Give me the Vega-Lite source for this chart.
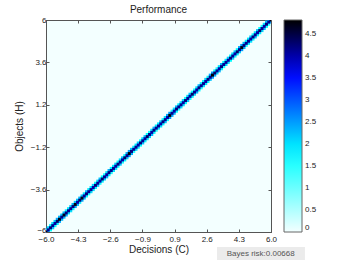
{
  "$schema": "https://vega.github.io/schema/vega-lite/v6.json",
  "width": 225,
  "height": 212,
  "autosize": {"type": "none"},
  "padding": {"left": 46, "top": 20, "right": 77, "bottom": 30},
  "background": "white",
  "config": {
    "font": "Liberation Sans",
    "view": {"fill": "#f3ffff", "stroke": "#555", "strokeWidth": 1}
  },
  "title": {"text": "Performance", "fontSize": 10, "fontWeight": "normal", "color": "#222", "offset": 1, "anchor": "middle"},
  "resolve": {"axis": {"x": "independent", "y": "independent"}},
  "datasets": {
    "cells": [
      {"c":-6,"r":-5.88,"v":1.9},{"c":-5.88,"r":-5.76,"v":2.1},{"c":-5.76,"r":-5.64,"v":1.7},{"c":-5.64,"r":-5.52,"v":2.0},{"c":-5.52,"r":-5.4,"v":2.2},
      {"c":-5.4,"r":-5.28,"v":2.4},{"c":-5.28,"r":-5.16,"v":2.3},{"c":-5.16,"r":-5.04,"v":2.2},{"c":-5.04,"r":-4.92,"v":2.3},{"c":-4.92,"r":-4.8,"v":1.9},
      {"c":-4.8,"r":-4.68,"v":1.9},{"c":-4.68,"r":-4.56,"v":2.1},{"c":-4.56,"r":-4.44,"v":2.3},{"c":-4.44,"r":-4.32,"v":2.2},{"c":-4.32,"r":-4.2,"v":2.2},
      {"c":-4.2,"r":-4.08,"v":2.3},{"c":-4.08,"r":-3.96,"v":2.2},{"c":-3.96,"r":-3.84,"v":2.0},{"c":-3.84,"r":-3.72,"v":2.3},{"c":-3.72,"r":-3.6,"v":1.9},
      {"c":-3.6,"r":-3.48,"v":1.9},{"c":-3.48,"r":-3.36,"v":2.1},{"c":-3.36,"r":-3.24,"v":1.7},{"c":-3.24,"r":-3.12,"v":2.0},{"c":-3.12,"r":-3,"v":2.2},
      {"c":-3,"r":-2.88,"v":1.8},{"c":-2.88,"r":-2.76,"v":1.6},{"c":-2.76,"r":-2.64,"v":2.0},{"c":-2.64,"r":-2.52,"v":2.3},{"c":-2.52,"r":-2.4,"v":1.9},
      {"c":-2.4,"r":-2.28,"v":1.9},{"c":-2.28,"r":-2.16,"v":2.1},{"c":-2.16,"r":-2.04,"v":1.7},{"c":-2.04,"r":-1.92,"v":2.0},{"c":-1.92,"r":-1.8,"v":2.2},
      {"c":-1.8,"r":-1.68,"v":1.8},{"c":-1.68,"r":-1.56,"v":2.4},{"c":-1.56,"r":-1.44,"v":2.5},{"c":-1.44,"r":-1.32,"v":2.3},{"c":-1.32,"r":-1.2,"v":1.9},
      {"c":-1.2,"r":-1.08,"v":1.9},{"c":-1.08,"r":-0.96,"v":2.1},{"c":-0.96,"r":-0.84,"v":1.7},{"c":-0.84,"r":-0.72,"v":2.0},{"c":-0.72,"r":-0.6,"v":2.2},
      {"c":-0.6,"r":-0.48,"v":1.8},{"c":-0.48,"r":-0.36,"v":1.6},{"c":-0.36,"r":-0.24,"v":2.0},{"c":-0.24,"r":-0.12,"v":2.3},{"c":-0.12,"r":0,"v":1.9},
      {"c":0,"r":0.12,"v":1.9},{"c":0.12,"r":0.24,"v":2.1},{"c":0.24,"r":0.36,"v":1.7},{"c":0.36,"r":0.48,"v":2.0},{"c":0.48,"r":0.6,"v":2.4},
      {"c":0.6,"r":0.72,"v":2.5},{"c":0.72,"r":0.84,"v":1.6},{"c":0.84,"r":0.96,"v":2.0},{"c":0.96,"r":1.08,"v":2.3},{"c":1.08,"r":1.2,"v":1.9},
      {"c":1.2,"r":1.32,"v":1.9},{"c":1.32,"r":1.44,"v":2.1},{"c":1.44,"r":1.56,"v":1.7},{"c":1.56,"r":1.68,"v":2.0},{"c":1.68,"r":1.8,"v":2.2},
      {"c":1.8,"r":1.92,"v":1.8},{"c":1.92,"r":2.04,"v":1.6},{"c":2.04,"r":2.16,"v":2.0},{"c":2.16,"r":2.28,"v":2.3},{"c":2.28,"r":2.4,"v":1.9},
      {"c":2.4,"r":2.52,"v":1.9},{"c":2.52,"r":2.64,"v":2.1},{"c":2.64,"r":2.76,"v":1.7},{"c":2.76,"r":2.88,"v":2.4},{"c":2.88,"r":3,"v":2.5},
      {"c":3,"r":3.12,"v":1.8},{"c":3.12,"r":3.24,"v":1.6},{"c":3.24,"r":3.36,"v":2.0},{"c":3.36,"r":3.48,"v":2.3},{"c":3.48,"r":3.6,"v":1.9},
      {"c":3.6,"r":3.72,"v":1.9},{"c":3.72,"r":3.84,"v":2.1},{"c":3.84,"r":3.96,"v":1.7},{"c":3.96,"r":4.08,"v":2.0},{"c":4.08,"r":4.2,"v":2.2},
      {"c":4.2,"r":4.32,"v":1.8},{"c":4.32,"r":4.44,"v":2.4},{"c":4.44,"r":4.56,"v":2.5},{"c":4.56,"r":4.68,"v":2.3},{"c":4.68,"r":4.8,"v":1.9},
      {"c":4.8,"r":4.92,"v":1.9},{"c":4.92,"r":5.04,"v":2.1},{"c":5.04,"r":5.16,"v":1.7},{"c":5.16,"r":5.28,"v":2.0},{"c":5.28,"r":5.4,"v":2.2},
      {"c":5.4,"r":5.52,"v":1.8},{"c":5.52,"r":5.64,"v":1.6},{"c":5.64,"r":5.76,"v":2.0},{"c":5.76,"r":5.88,"v":2.3},{"c":5.88,"r":6,"v":2.4},

      {"c":-5.88,"r":-6,"v":2.4},{"c":-5.76,"r":-5.88,"v":1.8},{"c":-5.64,"r":-5.76,"v":2.2},{"c":-5.52,"r":-5.64,"v":1.7},{"c":-5.4,"r":-5.52,"v":1.9},
      {"c":-5.28,"r":-5.4,"v":2.4},{"c":-5.16,"r":-5.28,"v":2.3},{"c":-5.04,"r":-5.16,"v":2.3},{"c":-4.92,"r":-5.04,"v":2.4},{"c":-4.8,"r":-4.92,"v":2.0},
      {"c":-4.68,"r":-4.8,"v":2.0},{"c":-4.56,"r":-4.68,"v":1.8},{"c":-4.44,"r":-4.56,"v":2.4},{"c":-4.32,"r":-4.44,"v":2.3},{"c":-4.2,"r":-4.32,"v":1.9},
      {"c":-4.08,"r":-4.2,"v":2.4},{"c":-3.96,"r":-4.08,"v":2.3},{"c":-3.84,"r":-3.96,"v":1.8},{"c":-3.72,"r":-3.84,"v":1.6},{"c":-3.6,"r":-3.72,"v":2.0},
      {"c":-3.48,"r":-3.6,"v":2.0},{"c":-3.36,"r":-3.48,"v":1.8},{"c":-3.24,"r":-3.36,"v":2.2},{"c":-3.12,"r":-3.24,"v":1.7},{"c":-3,"r":-3.12,"v":1.9},
      {"c":-2.88,"r":-3,"v":2.1},{"c":-2.76,"r":-2.88,"v":2.3},{"c":-2.64,"r":-2.76,"v":1.8},{"c":-2.52,"r":-2.64,"v":1.6},{"c":-2.4,"r":-2.52,"v":2.0},
      {"c":-2.28,"r":-2.4,"v":2.0},{"c":-2.16,"r":-2.28,"v":1.8},{"c":-2.04,"r":-2.16,"v":2.2},{"c":-1.92,"r":-2.04,"v":1.7},{"c":-1.8,"r":-1.92,"v":1.9},
      {"c":-1.68,"r":-1.8,"v":2.1},{"c":-1.56,"r":-1.68,"v":2.5},{"c":-1.44,"r":-1.56,"v":2.4},{"c":-1.32,"r":-1.44,"v":1.6},{"c":-1.2,"r":-1.32,"v":2.0},
      {"c":-1.08,"r":-1.2,"v":2.0},{"c":-0.96,"r":-1.08,"v":1.8},{"c":-0.84,"r":-0.96,"v":2.2},{"c":-0.72,"r":-0.84,"v":1.7},{"c":-0.6,"r":-0.72,"v":1.9},
      {"c":-0.48,"r":-0.6,"v":2.1},{"c":-0.36,"r":-0.48,"v":2.3},{"c":-0.24,"r":-0.36,"v":1.8},{"c":-0.12,"r":-0.24,"v":1.6},{"c":0,"r":-0.12,"v":2.0},
      {"c":0.12,"r":0,"v":2.0},{"c":0.24,"r":0.12,"v":1.8},{"c":0.36,"r":0.24,"v":2.2},{"c":0.48,"r":0.36,"v":1.7},{"c":0.6,"r":0.48,"v":2.5},
      {"c":0.72,"r":0.6,"v":2.4},{"c":0.84,"r":0.72,"v":2.3},{"c":0.96,"r":0.84,"v":1.8},{"c":1.08,"r":0.96,"v":1.6},{"c":1.2,"r":1.08,"v":2.0},
      {"c":1.32,"r":1.2,"v":2.0},{"c":1.44,"r":1.32,"v":1.8},{"c":1.56,"r":1.44,"v":2.2},{"c":1.68,"r":1.56,"v":1.7},{"c":1.8,"r":1.68,"v":1.9},
      {"c":1.92,"r":1.8,"v":2.1},{"c":2.04,"r":1.92,"v":2.3},{"c":2.16,"r":2.04,"v":1.8},{"c":2.28,"r":2.16,"v":1.6},{"c":2.4,"r":2.28,"v":2.0},
      {"c":2.52,"r":2.4,"v":2.0},{"c":2.64,"r":2.52,"v":1.8},{"c":2.76,"r":2.64,"v":2.2},{"c":2.88,"r":2.76,"v":2.5},{"c":3,"r":2.88,"v":2.4},
      {"c":3.12,"r":3,"v":2.1},{"c":3.24,"r":3.12,"v":2.3},{"c":3.36,"r":3.24,"v":1.8},{"c":3.48,"r":3.36,"v":1.6},{"c":3.6,"r":3.48,"v":2.0},
      {"c":3.72,"r":3.6,"v":2.0},{"c":3.84,"r":3.72,"v":1.8},{"c":3.96,"r":3.84,"v":2.2},{"c":4.08,"r":3.96,"v":1.7},{"c":4.2,"r":4.08,"v":1.9},
      {"c":4.32,"r":4.2,"v":2.1},{"c":4.44,"r":4.32,"v":2.5},{"c":4.56,"r":4.44,"v":2.4},{"c":4.68,"r":4.56,"v":1.6},{"c":4.8,"r":4.68,"v":2.0},
      {"c":4.92,"r":4.8,"v":2.0},{"c":5.04,"r":4.92,"v":1.8},{"c":5.16,"r":5.04,"v":2.2},{"c":5.28,"r":5.16,"v":1.7},{"c":5.4,"r":5.28,"v":1.9},
      {"c":5.52,"r":5.4,"v":2.1},{"c":5.64,"r":5.52,"v":2.3},{"c":5.76,"r":5.64,"v":1.8},{"c":5.88,"r":5.76,"v":1.6},{"c":6,"r":5.88,"v":2.4},

      {"c":-6,"r":-6,"v":4.75},{"c":-5.88,"r":-5.88,"v":4.1},{"c":-5.76,"r":-5.76,"v":4.2},{"c":-5.64,"r":-5.64,"v":4.1},{"c":-5.52,"r":-5.52,"v":4.0},
      {"c":-5.4,"r":-5.4,"v":4.3},{"c":-5.28,"r":-5.28,"v":4.75},{"c":-5.16,"r":-5.16,"v":4.1},{"c":-5.04,"r":-5.04,"v":4.7},{"c":-4.92,"r":-4.92,"v":4.2},
      {"c":-4.8,"r":-4.8,"v":4.1},{"c":-4.68,"r":-4.68,"v":4.1},{"c":-4.56,"r":-4.56,"v":4.2},{"c":-4.44,"r":-4.44,"v":4.75},{"c":-4.32,"r":-4.32,"v":4.0},
      {"c":-4.2,"r":-4.2,"v":4.3},{"c":-4.08,"r":-4.08,"v":4.7},{"c":-3.96,"r":-3.96,"v":4.1},{"c":-3.84,"r":-3.84,"v":4.2},{"c":-3.72,"r":-3.72,"v":4.1},
      {"c":-3.6,"r":-3.6,"v":4.1},{"c":-3.48,"r":-3.48,"v":4.0},{"c":-3.36,"r":-3.36,"v":4.2},{"c":-3.24,"r":-3.24,"v":4.1},{"c":-3.12,"r":-3.12,"v":4.0},
      {"c":-3,"r":-3,"v":4.3},{"c":-2.88,"r":-2.88,"v":4.1},{"c":-2.76,"r":-2.76,"v":4.0},{"c":-2.64,"r":-2.64,"v":4.2},{"c":-2.52,"r":-2.52,"v":4.1},
      {"c":-2.4,"r":-2.4,"v":4.1},{"c":-2.28,"r":-2.28,"v":4.0},{"c":-2.16,"r":-2.16,"v":4.2},{"c":-2.04,"r":-2.04,"v":4.1},{"c":-1.92,"r":-1.92,"v":4.0},
      {"c":-1.8,"r":-1.8,"v":4.3},{"c":-1.68,"r":-1.68,"v":4.1},{"c":-1.56,"r":-1.56,"v":4.8},{"c":-1.44,"r":-1.44,"v":4.2},{"c":-1.32,"r":-1.32,"v":4.1},
      {"c":-1.2,"r":-1.2,"v":4.1},{"c":-1.08,"r":-1.08,"v":4.0},{"c":-0.96,"r":-0.96,"v":4.2},{"c":-0.84,"r":-0.84,"v":4.1},{"c":-0.72,"r":-0.72,"v":4.0},
      {"c":-0.6,"r":-0.6,"v":4.3},{"c":-0.48,"r":-0.48,"v":4.1},{"c":-0.36,"r":-0.36,"v":4.0},{"c":-0.24,"r":-0.24,"v":4.2},{"c":-0.12,"r":-0.12,"v":4.1},
      {"c":0,"r":0,"v":4.1},{"c":0.12,"r":0.12,"v":4.0},{"c":0.24,"r":0.24,"v":4.2},{"c":0.36,"r":0.36,"v":4.1},{"c":0.48,"r":0.48,"v":4.0},
      {"c":0.6,"r":0.6,"v":4.8},{"c":0.72,"r":0.72,"v":4.1},{"c":0.84,"r":0.84,"v":4.0},{"c":0.96,"r":0.96,"v":4.2},{"c":1.08,"r":1.08,"v":4.1},
      {"c":1.2,"r":1.2,"v":4.1},{"c":1.32,"r":1.32,"v":4.0},{"c":1.44,"r":1.44,"v":4.2},{"c":1.56,"r":1.56,"v":4.1},{"c":1.68,"r":1.68,"v":4.0},
      {"c":1.8,"r":1.8,"v":4.3},{"c":1.92,"r":1.92,"v":4.1},{"c":2.04,"r":2.04,"v":4.0},{"c":2.16,"r":2.16,"v":4.2},{"c":2.28,"r":2.28,"v":4.1},
      {"c":2.4,"r":2.4,"v":4.1},{"c":2.52,"r":2.52,"v":4.0},{"c":2.64,"r":2.64,"v":4.2},{"c":2.76,"r":2.76,"v":4.1},{"c":2.88,"r":2.88,"v":4.8},
      {"c":3,"r":3,"v":4.3},{"c":3.12,"r":3.12,"v":4.1},{"c":3.24,"r":3.24,"v":4.0},{"c":3.36,"r":3.36,"v":4.2},{"c":3.48,"r":3.48,"v":4.1},
      {"c":3.6,"r":3.6,"v":4.1},{"c":3.72,"r":3.72,"v":4.0},{"c":3.84,"r":3.84,"v":4.2},{"c":3.96,"r":3.96,"v":4.1},{"c":4.08,"r":4.08,"v":4.0},
      {"c":4.2,"r":4.2,"v":4.3},{"c":4.32,"r":4.32,"v":4.1},{"c":4.44,"r":4.44,"v":4.75},{"c":4.56,"r":4.56,"v":4.2},{"c":4.68,"r":4.68,"v":4.1},
      {"c":4.8,"r":4.8,"v":4.1},{"c":4.92,"r":4.92,"v":4.0},{"c":5.04,"r":5.04,"v":4.2},{"c":5.16,"r":5.16,"v":4.1},{"c":5.28,"r":5.28,"v":4.0},
      {"c":5.4,"r":5.4,"v":4.3},{"c":5.52,"r":5.52,"v":4.1},{"c":5.64,"r":5.64,"v":4.0},{"c":5.76,"r":5.76,"v":4.2},{"c":5.88,"r":5.88,"v":4.1},
      {"c":6,"r":6,"v":4.7}
    ],
    "note": [{"label": "Bayes risk:0.00668"}]
  },
  "layer": [
    {
      "data": {"name": "cells"},
      "mark": {"type": "square", "size": 9, "opacity": 1, "filled": true, "clip": true},
      "encoding": {
        "x": {
          "field": "c", "type": "quantitative",
          "scale": {"domain": [-6, 6], "nice": false, "zero": false},
          "axis": {
            "values": [-6, -4.2857, -2.5714, -0.8571, 0.8571, 2.5714, 4.2857, 6],
            "format": ".1f", "title": "Decisions (C)", "grid": false,
            "tickSize": -3, "tickColor": "#555", "domainColor": "#555",
            "labelFontSize": 8, "labelColor": "#222", "labelPadding": 6,
            "labelOverlap": false, "labelFlush": false,
            "titleFontSize": 10, "titleFontWeight": "normal", "titleColor": "#222", "titlePadding": 1
          }
        },
        "y": {
          "field": "r", "type": "quantitative",
          "scale": {"domain": [-6, 6], "nice": false, "zero": false},
          "axis": {
            "values": [-6, -3.6, -1.2, 1.2, 3.6, 6],
            "format": ".1~f", "title": "Objects (H)", "grid": false,
            "tickSize": -3, "tickColor": "#555", "domainColor": "#555",
            "labelFontSize": 8, "labelColor": "#222", "labelPadding": 3,
            "labelOffset": {"condition": {"test": "datum.value <= -6", "value": -2}, "value": 0},
            "labelOverlap": false, "labelFlush": false,
            "titleFontSize": 10, "titleFontWeight": "normal", "titleColor": "#222", "titlePadding": 6
          }
        },
        "color": {
          "field": "v", "type": "quantitative",
          "scale": {"domain": [0, 1.8, 3.6, 4.82], "range": ["#f3ffff", "#00ffff", "#0000ff", "#000000"], "interpolate": "rgb"},
          "legend": {
            "orient": "none", "legendX": 238, "legendY": 0, "title": null, "padding": 0,
            "direction": "vertical", "gradientLength": 212, "gradientThickness": 18,
            "gradientStrokeColor": "#666", "gradientStrokeWidth": 1,
            "values": [0, 0.5, 1, 1.5, 2, 2.5, 3, 3.5, 4, 4.5], "format": ".1~f",
            "labelFontSize": 8, "labelColor": "#222", "labelOffset": 3, "labelOverlap": false
          }
        }
      }
    },
    {
      "data": {"name": "note"},
      "mark": {"type": "rect", "fill": "#ebebeb", "clip": false},
      "encoding": {
        "x": {"datum": 3.12, "type": "quantitative",
              "axis": {"orient": "top", "values": [-6, -4.2857, -2.5714, -0.8571, 0.8571, 2.5714, 4.2857, 6], "labels": false, "title": null, "domain": false, "grid": false, "tickSize": -3, "tickColor": "#555"}},
        "x2": {"datum": 7.81},
        "y": {"datum": -6.85, "type": "quantitative",
              "axis": {"orient": "right", "values": [-6, -3.6, -1.2, 1.2, 3.6, 6], "labels": false, "title": null, "domain": false, "grid": false, "tickSize": -3, "tickColor": "#555"}},
        "y2": {"datum": -7.58}
      }
    },
    {
      "data": {"name": "note"},
      "mark": {"type": "text", "fontSize": 8, "color": "#555", "align": "center", "baseline": "middle", "clip": false},
      "encoding": {
        "x": {"datum": 5.45, "type": "quantitative", "axis": null},
        "y": {"datum": -7.22, "type": "quantitative", "axis": null},
        "text": {"field": "label"}
      }
    }
  ]
}
